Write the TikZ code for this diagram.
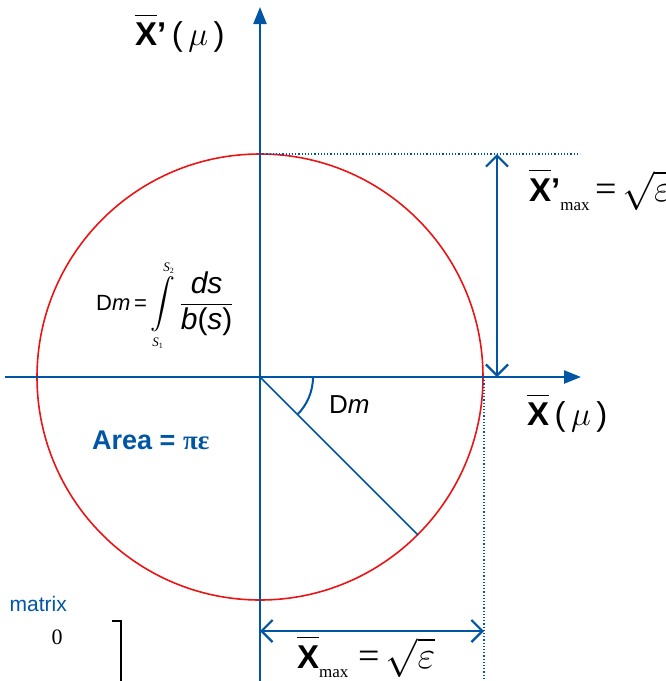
\documentclass[tikz,border=0pt]{standalone}
\usepackage{exscale}
\usepackage{graphicx}
\usepackage{fontspec}
\setmainfont{Liberation Sans}
\newfontfamily\serifrm{Liberation Serif}
\usetikzlibrary{arrows.meta}
\definecolor{axblue}{RGB}{0,86,164}
\definecolor{cred}{RGB}{235,20,20}
\tikzset{
  axis/.style={draw=axblue,line width=2.4pt,-{Triangle[length=17pt,width=13pt]}},
  dimarrow/.style={draw=axblue,line width=2.2pt,{Straight Barb[length=11pt,width=22pt]}-{Straight Barb[length=11pt,width=22pt]}},
  guide/.style={draw=axblue,line width=1.2pt,dotted},
  thinblue/.style={draw=axblue,line width=1.5pt},
  lbl/.style={inner sep=0pt,text=black}
}
\newcommand{\barX}{$\overline{\mbox{\bfseries X}\vphantom{\rule{0pt}{27pt}}}$}
\newcommand{\mx}{\raisebox{-9pt}{\serifrm\fontsize{17}{19}\selectfont max}}
\newcommand{\eqsq}{{\serifrm\fontsize{38}{40}\selectfont =}\,{\fontsize{24}{28}\selectfont\scalebox{1.55}{$\sqrt{\varepsilon}$}}}
\newcommand{\bigmu}{{\fontsize{24}{28}\selectfont\scalebox{1.35}{$\mu$}}}
\newcommand{\intlim}[1]{\mbox{\serifrm\fontsize{13}{14}\selectfont\textit{S}\raisebox{-2pt}{\fontsize{8}{9}\selectfont #1}}}
\begin{document}
\begin{tikzpicture}[x=1pt,y=-1pt]
\useasboundingbox (0,0) rectangle (665,681);
\coordinate (c) at (260,377);
\coordinate (xl) at (5,377);
\coordinate (xr) at (581,377);
\coordinate (yb) at (260,690);
\coordinate (yt) at (260,7);
\coordinate (topc) at (260,154);
\coordinate (topr) at (580,154);
\coordinate (rx) at (484,377);
\coordinate (rxb) at (484,690);
\coordinate (va) at (497,154);
\coordinate (vb) at (497,377);
\coordinate (ha) at (260,631);
\coordinate (hb) at (484,631);
\coordinate (rad) at (417.7,534.7);
% circle
\draw[cred,line width=1.6pt] (c) circle[radius=223];
% guides
\draw[guide] (topc) -- (topr);
\draw[guide] (rx) -- (rxb);
% axes
\draw[axis] (xl) -- (xr);
\draw[axis] (yb) -- (yt);
% radius and angle
\draw[thinblue] (c) -- (rad);
\draw[axblue,line width=2pt] (313,377) arc[start angle=0,end angle=45,radius=53];
% dimension arrows
\draw[dimarrow] (vb) -- (va);
\draw[dimarrow] (ha) -- (hb);
% labels
\node[lbl,anchor=west] (ylab) at (135,33) {\fontsize{33}{36}\selectfont \barX\textbf{'}\,(\,\bigmu\,)};
\node[lbl,anchor=west] (xlab) at (527,413) {\fontsize{33}{36}\selectfont \barX\,(\,\bigmu\,)};
\node[lbl,anchor=west] (xpmax) at (529,190) {\fontsize{33}{36}\selectfont \barX\textbf{'}\mx\,\eqsq};
\node[lbl,anchor=west] (xmax) at (297,657) {\fontsize{33}{36}\selectfont \barX\mx\hspace{10pt}\eqsq};
\node[lbl,anchor=west] (dm) at (329,405) {\fontsize{26}{30}\selectfont D\textit{m}};
\node[lbl,anchor=west] (form) at (96,306) {\fontsize{22}{26}\selectfont D\textit{m}\,=\,\fontsize{26}{30}\selectfont$\displaystyle\int\limits_{\intlim{1}}^{\intlim{2}}\frac{\mbox{\fontsize{30}{32}\selectfont\textit{ds}}}{\mbox{\fontsize{30}{32}\selectfont\textit{b}(\textit{s})}}$};
\node[lbl,anchor=west,text=axblue] (area) at (92,440) {\fontsize{27}{30}\selectfont\bfseries Area = {\serifrm πε}};
\node[lbl,anchor=east,text=axblue] (mat) at (67,604) {\fontsize{21}{25}\selectfont matrix};
\node[lbl] (zero) at (57,637) {\serifrm\fontsize{22}{26}\selectfont 0};
\draw[black,line width=1.6pt] (112,621) -- (121,621) -- (121,690);
\end{tikzpicture}
\end{document}
